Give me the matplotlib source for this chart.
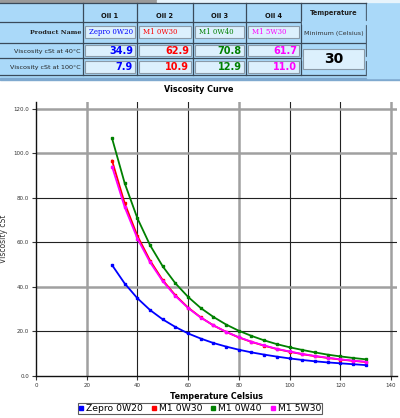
import numpy as np
import matplotlib.pyplot as plt
from matplotlib.patches import Rectangle

# oil data
oil_heads = ['Oil 1', 'Oil 2', 'Oil 3', 'Oil 4']
names = ['Zepro 0W20', 'M1 0W30', 'M1 0W40', 'M1 5W30']
colors = ['#0000ff', '#ff0000', '#008000', '#ff00ff']
visc40 = [34.9, 62.9, 70.8, 61.7]
visc100 = [7.9, 10.9, 12.9, 11.0]
min_temp = 30

temps = list(range(30, 135, 5))
zepro_0w20 = [49.8, 41.5, 34.9, 29.6, 25.4, 22.0, 19.1, 16.8, 14.8, 13.2, 11.8,
              10.6, 9.6, 8.7, 7.9, 7.2, 6.6, 6.1, 5.7, 5.3, 4.9]
m1_0w30 = [96.7, 77.5, 62.9, 51.8, 43.0, 36.2, 30.7, 26.3, 22.7, 19.8, 17.3,
           15.3, 13.6, 12.1, 10.9, 9.8, 8.9, 8.1, 7.4, 6.8, 6.3]
m1_0w40 = [106.7, 86.5, 70.8, 58.7, 49.2, 41.6, 35.5, 30.5, 26.5, 23.1, 20.3,
           18.0, 16.0, 14.3, 12.9, 11.7, 10.6, 9.6, 8.8, 8.1, 7.5]
m1_5w30 = [94.0, 75.7, 61.7, 51.0, 42.5, 35.9, 30.5, 26.2, 22.7, 19.8, 17.4,
           15.4, 13.7, 12.2, 11.0, 9.9, 9.0, 8.2, 7.5, 6.9, 6.4]
series = [zepro_0w20, m1_0w30, m1_0w40, m1_5w30]

xticks = [0, 20, 40, 60, 80, 100, 120, 140]
yticks = [0, 20, 40, 60, 80, 100, 120]
gray_x = [20, 80, 140]
gray_y = [40, 100, 120]

W, H = 400, 418
fig = plt.figure(figsize=(W / 100, H / 100), dpi=100)

# ---- top form panel, drawn in pixel coords ----
bg = fig.add_axes([0, 0, 1, 1])
bg.set_xlim(0, W)
bg.set_ylim(H, 0)
bg.axis('off')
bg.add_patch(Rectangle((0, 0), W, 79, color='#aad9f9', zorder=0))
bg.add_patch(Rectangle((0, 78), W, 2, color='#7fa9cf', zorder=1))
bg.add_patch(Rectangle((0, 0), 157, 2, color='#9a9a9a', zorder=1))
bg.add_patch(Rectangle((157, 0), W - 157, 2, color='#e8f4fc', zorder=1))

line_c = '#3a4a5a'
col_x = [83, 137, 193, 246, 301]
row_y = [3, 22, 43, 58, 75]
for y in row_y:
    bg.plot([0, 366], [y, y], color=line_c, lw=0.9, zorder=2)
for x in col_x + [366]:
    bg.plot([x, x], [3, 75], color=line_c, lw=0.9, zorder=2)
# temperature column only split once
bg.add_patch(Rectangle((301.6, 21), 64, 2.5, color='#aad9f9', zorder=3))
bg.add_patch(Rectangle((301.6, 57), 64, 2.5, color='#aad9f9', zorder=3))
bg.add_patch(Rectangle((367, 3.5), 33, 74, color='#aad9f9', zorder=3))

def box(x0, y0, x1, y1):
    bg.add_patch(Rectangle((x0, y0), x1 - x0, y1 - y0, facecolor='#dcf0fd',
                           edgecolor='#8a9aa8', lw=0.8, zorder=4))

lab_kw = dict(fontsize=4.6, color='#222222', va='center', zorder=5)
bg.text(81, 33, 'Product Name', ha='right', family='DejaVu Serif',
        fontweight='bold', **lab_kw)
bg.text(81, 52, 'Viscosity cSt at 40°C', ha='right', **lab_kw)
bg.text(81, 68, 'Viscosity cSt at 100°C', ha='right', **lab_kw)

for i in range(4):
    x0, x1 = col_x[i], col_x[i + 1]
    bg.text((x0 + x1) / 2, 16, oil_heads[i], ha='center', va='center',
            fontsize=4.8, fontweight='bold', color='#111111', zorder=5)
    box(x0 + 2, 26, x1 - 2, 37.5)
    bg.text(x0 + 6, 32, names[i], ha='left', va='center', fontsize=5,
            family='DejaVu Serif', color=colors[i], zorder=5)
    box(x0 + 2, 45, x1 - 2, 56)
    bg.text(x1 - 4, 51, f'{visc40[i]:.1f}', ha='right', va='center',
            fontsize=7, fontweight='bold', color=colors[i], zorder=5)
    box(x0 + 2, 60.5, x1 - 2, 72.5)
    bg.text(x1 - 4, 67, f'{visc100[i]:.1f}', ha='right', va='center',
            fontsize=7, fontweight='bold', color=colors[i], zorder=5)

bg.text(333.5, 13, 'Temperature', ha='center', va='center', fontsize=4.8,
        fontweight='bold', color='#222222', zorder=5)
bg.text(333.5, 33, 'Minimum (Celsius)', ha='center', va='center', fontsize=4.6,
        color='#333333', zorder=5)
box(303, 48.5, 364, 68.5)
bg.text(333.5, 59, str(min_temp), ha='center', va='center', fontsize=10,
        fontweight='bold', color='black', zorder=5)

# ---- chart ----
ax = fig.add_axes([36 / W, 1 - 376 / H, 361 / W, 274 / H])
for vals, c, n in zip(series, colors, names):
    ax.plot(temps, vals, color=c, lw=1.3, marker='s', ms=1.8, mec=c, label=n,
            zorder=3)

for x in xticks[1:]:
    if x in gray_x:
        ax.axvline(x, color='#a0a0a0', lw=1.8, zorder=1)
    else:
        ax.axvline(x, color='#222222', lw=0.8, zorder=1)
for y in yticks[1:]:
    if y in gray_y:
        ax.axhline(y, color='#a0a0a0', lw=1.8, zorder=1)
    else:
        ax.axhline(y, color='#222222', lw=0.8, zorder=1)

ax.set_xlim(0, 142.4)
ax.set_ylim(0, 123)
ax.set_xticks(xticks)
ax.set_xticklabels([str(v) for v in xticks])
ax.set_yticks(yticks)
ax.set_yticklabels([f'{v:.1f}' for v in yticks])
ax.tick_params(labelsize=4, colors='#333333', length=3, width=0.8, pad=2)
for s in ['top', 'right']:
    ax.spines[s].set_visible(False)
for s in ['left', 'bottom']:
    ax.spines[s].set_color('#111111')
    ax.spines[s].set_linewidth(1)

ax.set_title('Viscosity Curve', fontsize=5.8, fontweight='bold', pad=7, x=0.45)
ax.set_xlabel('Temperature Celsius', fontsize=5.8, fontweight='bold', labelpad=3)
ax.set_ylabel('Viscosity cSt', fontsize=5.5, color='#333333')
ax.yaxis.set_label_coords(-0.078, 0.5)

leg = fig.legend(handles=[plt.Line2D([], [], ls='', marker='s', ms=2.5, color=c)
                          for c in colors],
                 labels=names, loc='center', bbox_to_anchor=(200 / W, 1 - 408.5 / H),
                 ncol=4, fontsize=6.7, frameon=True, fancybox=False,
                 handlelength=0.5, handletextpad=0.3, columnspacing=0.9,
                 borderpad=0.15, borderaxespad=0)
leg.get_frame().set_edgecolor('#333333')
leg.get_frame().set_linewidth(0.8)

fig.savefig('out.png', dpi=100)
